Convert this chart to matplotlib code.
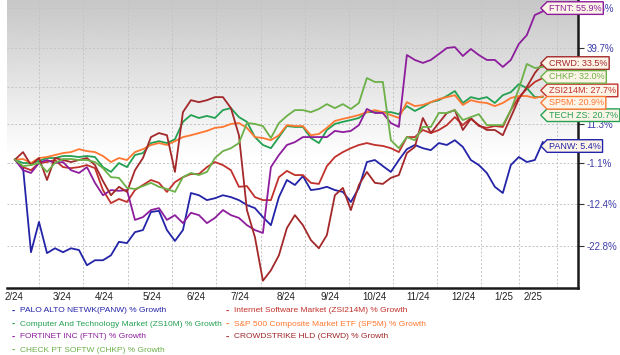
import numpy as np
import matplotlib
matplotlib.use('Agg')
import matplotlib.pyplot as plt
from matplotlib.path import Path

plt.rcParams['font.family'] = ['Liberation Sans', 'DejaVu Sans']

# % growth, one point about every 5-6 trading days, 2/24 .. 2/25
panw = [0, -2.2, -24.2, -17.0, -24.4, -23.3, -24.2, -23.3, -23.7, -27.1, -26.0, -26.0, -24.9, -21.8,
        -22.1, -19.5, -19.0, -14.5, -14.2, -19.0, -21.6, -19.0, -9.5, -10.1, -11.4, -10.9, -10.1, -10.6,
        -11.4, -12.7, -13.5, -15.8, -17.8, -10.6, -5.9, -7.3, -4.8, -8.7, -8.4, -7.8, -8.7, -9.2, -11.9,
        -8.1, -0.7, -0.1, -1.9, -3.6, -0.1, 3.2, 4.5, 3.5, 2.9, 5.1, 4.5, 6.0, 3.9, -0.1, -1.6, -3.9,
        -7.8, -9.5, -1.6, 0.8, -0.7, -0.1, 5.4]
zsi214m = [0, -2.2, -3.1, -1.0, -0.7, -0.1, -2.2, -2.5, -2.2, -1.6, -2.5, -8.7, -12.2, -11.1, -11.9,
           -8.7, -7.3, -5.9, -6.7, -9.2, -6.5, -5.1, -4.2, -4.2, -2.2, -0.7, -1.6, -3.1, -7.8, -7.6,
           -10.6, -11.4, -11.4, -5.1, -3.3, -4.5, -4.5, -6.7, -7.0, -1.9, 0.8, 2.3, 3.5, 4.5, 5.1, 4.5,
           4.2, 3.5, 2.3, 7.0, 7.0, 9.3, 8.3, 9.3, 10.9, 13.6, 10.9, 13.3, 10.6, 10.0, 10.6, 10.3, 16.0,
           20.6, 23.6, 26.2, 27.7]
zs10m = [0, -1.0, -1.0, -0.4, 0.5, 0.5, 1.1, 1.1, 0.8, 1.1, 0.8, -2.2, -3.6, -1.0, -2.2, 1.4, 2.0,
         5.1, 5.7, 5.1, 6.3, 12.0, 14.3, 13.3, 14.0, 13.3, 16.0, 16.7, 13.6, 12.0, 7.0, 4.5, 3.5, 7.0,
         10.6, 10.3, 10.3, 6.7, 5.1, 9.3, 11.3, 12.0, 12.6, 13.3, 15.3, 15.3, 15.3, 15.3, 14.6, 17.4,
         15.7, 17.1, 18.8, 19.5, 21.0, 22.8, 18.5, 20.6, 19.9, 20.6, 18.5, 21.3, 22.4, 25.4, 23.9, 20.6,
         20.7]
sp5m = [0, 0.2, -1.0, 0.5, 0.8, 1.4, 2.0, 2.3, 3.2, 2.6, 2.3, 1.1, -0.7, 0.5, -0.1, 2.3, 3.2, 4.5,
        5.1, 4.5, 5.7, 7.0, 7.6, 8.3, 9.0, 10.0, 10.3, 11.3, 11.6, 10.0, 7.0, 6.7, 6.0, 7.6, 10.9, 10.6,
        10.6, 7.6, 8.0, 10.0, 12.3, 13.0, 13.6, 14.3, 15.3, 16.0, 15.3, 14.3, 13.3, 18.8, 17.4, 17.8,
        18.8, 19.9, 20.6, 21.3, 17.8, 19.5, 18.8, 18.5, 17.4, 18.5, 20.3, 21.0, 21.0, 20.3, 20.9]
ftnt = [0, -3.1, -3.9, -1.0, -0.1, -1.0, -0.7, -3.1, -3.9, -2.2, -6.7, -10.1, -8.7, -8.9, -8.7,
        -16.5, -15.8, -14.0, -13.5, -16.5, -15.3, -17.3, -14.7, -15.3, -17.3, -16.0, -14.0, -15.3,
        -16.0, -17.8, -19.0, -19.7, -2.2, 1.4, 4.5, 5.4, 7.0, 7.0, 7.0, 7.0, 9.0, 8.6, 9.0, 10.9, 16.4,
        15.0, 15.0, 11.6, 10.3, 36.8, 34.8, 33.6, 34.8, 37.2, 39.7, 40.1, 36.4, 39.3, 36.8, 34.8, 34.8,
        32.0, 34.8, 41.4, 45.2, 54.2, 55.9]
crwd = [0, 2.3, -1.6, 0.5, -5.9, 0.5, -0.1, -0.7, -0.1, 0.5, -1.6, -6.2, -10.1, -7.8, -9.2, -3.1,
        0.5, 7.0, 8.3, 7.6, -3.6, 15.3, 19.5, 18.8, 19.5, 20.6, 20.6, 16.7, 7.6, -14.0, -20.7, -30.4,
        -28.2, -24.9, -18.5, -15.3, -17.8, -21.4, -23.3, -20.2, -10.1, -8.1, -14.0, -7.3, -3.6, -6.7,
        -7.0, -5.3, -4.5, 2.0, 3.9, 13.3, 8.3, 11.6, 15.0, 16.0, 9.3, 13.0, 10.9, 9.3, 9.3, 7.6, 13.6,
        19.9, 24.3, 29.6, 33.5]
chkp = [0, -1.9, -1.6, -1.0, -3.6, -1.0, 0.2, 0.2, -0.1, -0.1, -0.7, -2.5, -5.1, -5.3, -8.1, -8.4,
        -7.6, -6.7, -7.8, -8.4, -9.2, -5.1, -3.9, -4.5, -3.6, 0.5, 2.6, 3.5, 5.1, 11.6, 11.3, 10.6, 6.7,
        11.6, 14.0, 16.0, 16.0, 15.3, 16.4, 18.1, 16.7, 18.1, 16.4, 18.5, 27.7, 26.2, 26.2, 6.0, 3.5,
        7.0, 6.0, 10.3, 10.3, 15.0, 15.0, 16.0, 12.6, 13.6, 14.6, 10.9, 10.9, 10.9, 16.0, 23.6, 33.2,
        31.6, 32.0]

month_labels = ['2/24', '3/24', '4/24', '5/24', '6/24', '7/24', '8/24', '9/24', '10/24', '11/24',
                '12/24', '1/25', '2/25']
ytick_vals = [-22.8, -12.4, -1.1, 11.3, 24.3, 39.7, 57.5]
ytick_text = ['-22.8%', '-12.4%', '-1.1%', '11.3%', '', '39.7%', '57.5%']

names = ['PALO ALTO NETWK(PANW) % Growth', 'Internet Software Market (ZSI214M) % Growth',
         'Computer And Technology Market (ZS10M) % Growth', 'S&P 500 Composite Market ETF (SP5M) % Growth',
         'FORTINET INC (FTNT) % Growth', 'CROWDSTRIKE HLD (CRWD) % Growth',
         'CHECK PT SOFTW (CHKP) % Growth']
tags = ['PANW', 'ZSI214M', 'TECH ZS', 'SP5M', 'FTNT', 'CRWD', 'CHKP']
data = [panw, zsi214m, zs10m, sp5m, ftnt, crwd, chkp]
colors = ['#2424a8', '#c0312c', '#24a052', '#ff7730', '#8d1d9d', '#a3282a', '#6cb048']

fig = plt.figure(figsize=(6.2, 3.55), dpi=100)
ax = fig.add_axes([7 / 620, 1 - 288 / 355, 571 / 620, 288 / 355])

# grey-to-white background
grad = np.ones((300, 1))
grad[:165, 0] = np.linspace(0.78, 1.0, 165)
ax.imshow(grad, extent=(0, 1, 0, 1), transform=ax.transAxes, cmap='gray', vmin=0, vmax=1,
          aspect='auto', zorder=0, interpolation='bilinear')

fwd = lambda r: np.log1p(np.asarray(r) / 100.0)
inv = lambda t: np.expm1(t) * 100.0
ax.set_yscale('function', functions=(fwd, inv))

x = np.arange(len(panw))
for vals, col in zip(data, colors):
    ax.plot(x, vals, color=col, lw=1.3, zorder=3, solid_joinstyle='round')

ax.set_xlim(-1.0, 70.4)
ax.set_ylim(-31.9, 61.3)

ax.set_xticks([-0.1, 5.9, 11.1, 17.1, 22.6, 28.1, 33.9, 39.4, 45.0, 50.4, 56.1, 61.1, 64.75])
ax.set_xticklabels(month_labels, fontsize=7, color='#222222')
ax.set_xticks([3, 8.5, 14.1, 19.6, 25.1, 30.75, 36.25, 41.75, 47.25, 52.75, 58.25, 63, 67.75],
              minor=True)
ax.tick_params(axis='x', which='both', length=0, pad=3)
ax.grid(which='minor', axis='x', color='#c4c4c4', lw=0.7, ls=(0, (2, 2)), zorder=1)

ax.yaxis.tick_right()
ax.set_yticks(ytick_vals)
ax.set_yticklabels(ytick_text, fontsize=7, color='#3d3da8')
ax.yaxis.set_minor_locator(matplotlib.ticker.NullLocator())
ax.tick_params(axis='y', length=4, width=0.8, color='#333333', pad=2)
ax.grid(which='major', axis='y', color='#c4c4c4', lw=0.7, ls=(0, (2, 2)), zorder=1)

for s in ['left', 'top']:
    ax.spines[s].set_visible(False)
for s in ['right', 'bottom']:
    ax.spines[s].set_linewidth(1.8)
    ax.spines[s].set_color('#1a1a1a')


def tag_box(x0, y0, width, height, mutation_size):
    pad = 0.2 * mutation_size
    x0, y0 = x0 - pad, y0 - pad
    w, h = width + 2 * pad, height + 2 * pad
    verts = [(x0, y0), (x0 + w, y0), (x0 + w, y0 + h), (x0, y0 + h), (x0 - h / 2, y0 + h / 2), (x0, y0)]
    return Path(verts, closed=True)


# end-value tags on the right edge
tag_y = {'FTNT': 0.972, 'CRWD': 0.781, 'CHKP': 0.733, 'ZSI214M': 0.686, 'SP5M': 0.643,
         'TECH ZS': 0.600, 'PANW': 0.493}
for tag, vals, col in zip(tags, data, colors):
    ax.text(0.949, tag_y[tag], f'{tag}: {vals[-1]:.1f}%', transform=ax.transAxes, ha='left',
            va='center', fontsize=6.5, color=col, zorder=6, clip_on=False,
            bbox=dict(boxstyle=tag_box, fc='#fdf4e8', ec=col, lw=1.0))

# legend under the chart, two columns
legend_pos = [(12, 311), (226, 311), (12, 324), (226, 324), (12, 337), (226, 337), (12, 350)]
for (px, py), name, col in zip(legend_pos, names, colors):
    fig.text(px / 620, 1 - py / 355, '-', color=col, fontsize=7, fontweight='bold', va='center')
    fig.text((px + 8) / 620, 1 - py / 355, name, color=col, fontsize=6.0, va='center')

fig.savefig('out.png', dpi=100)
